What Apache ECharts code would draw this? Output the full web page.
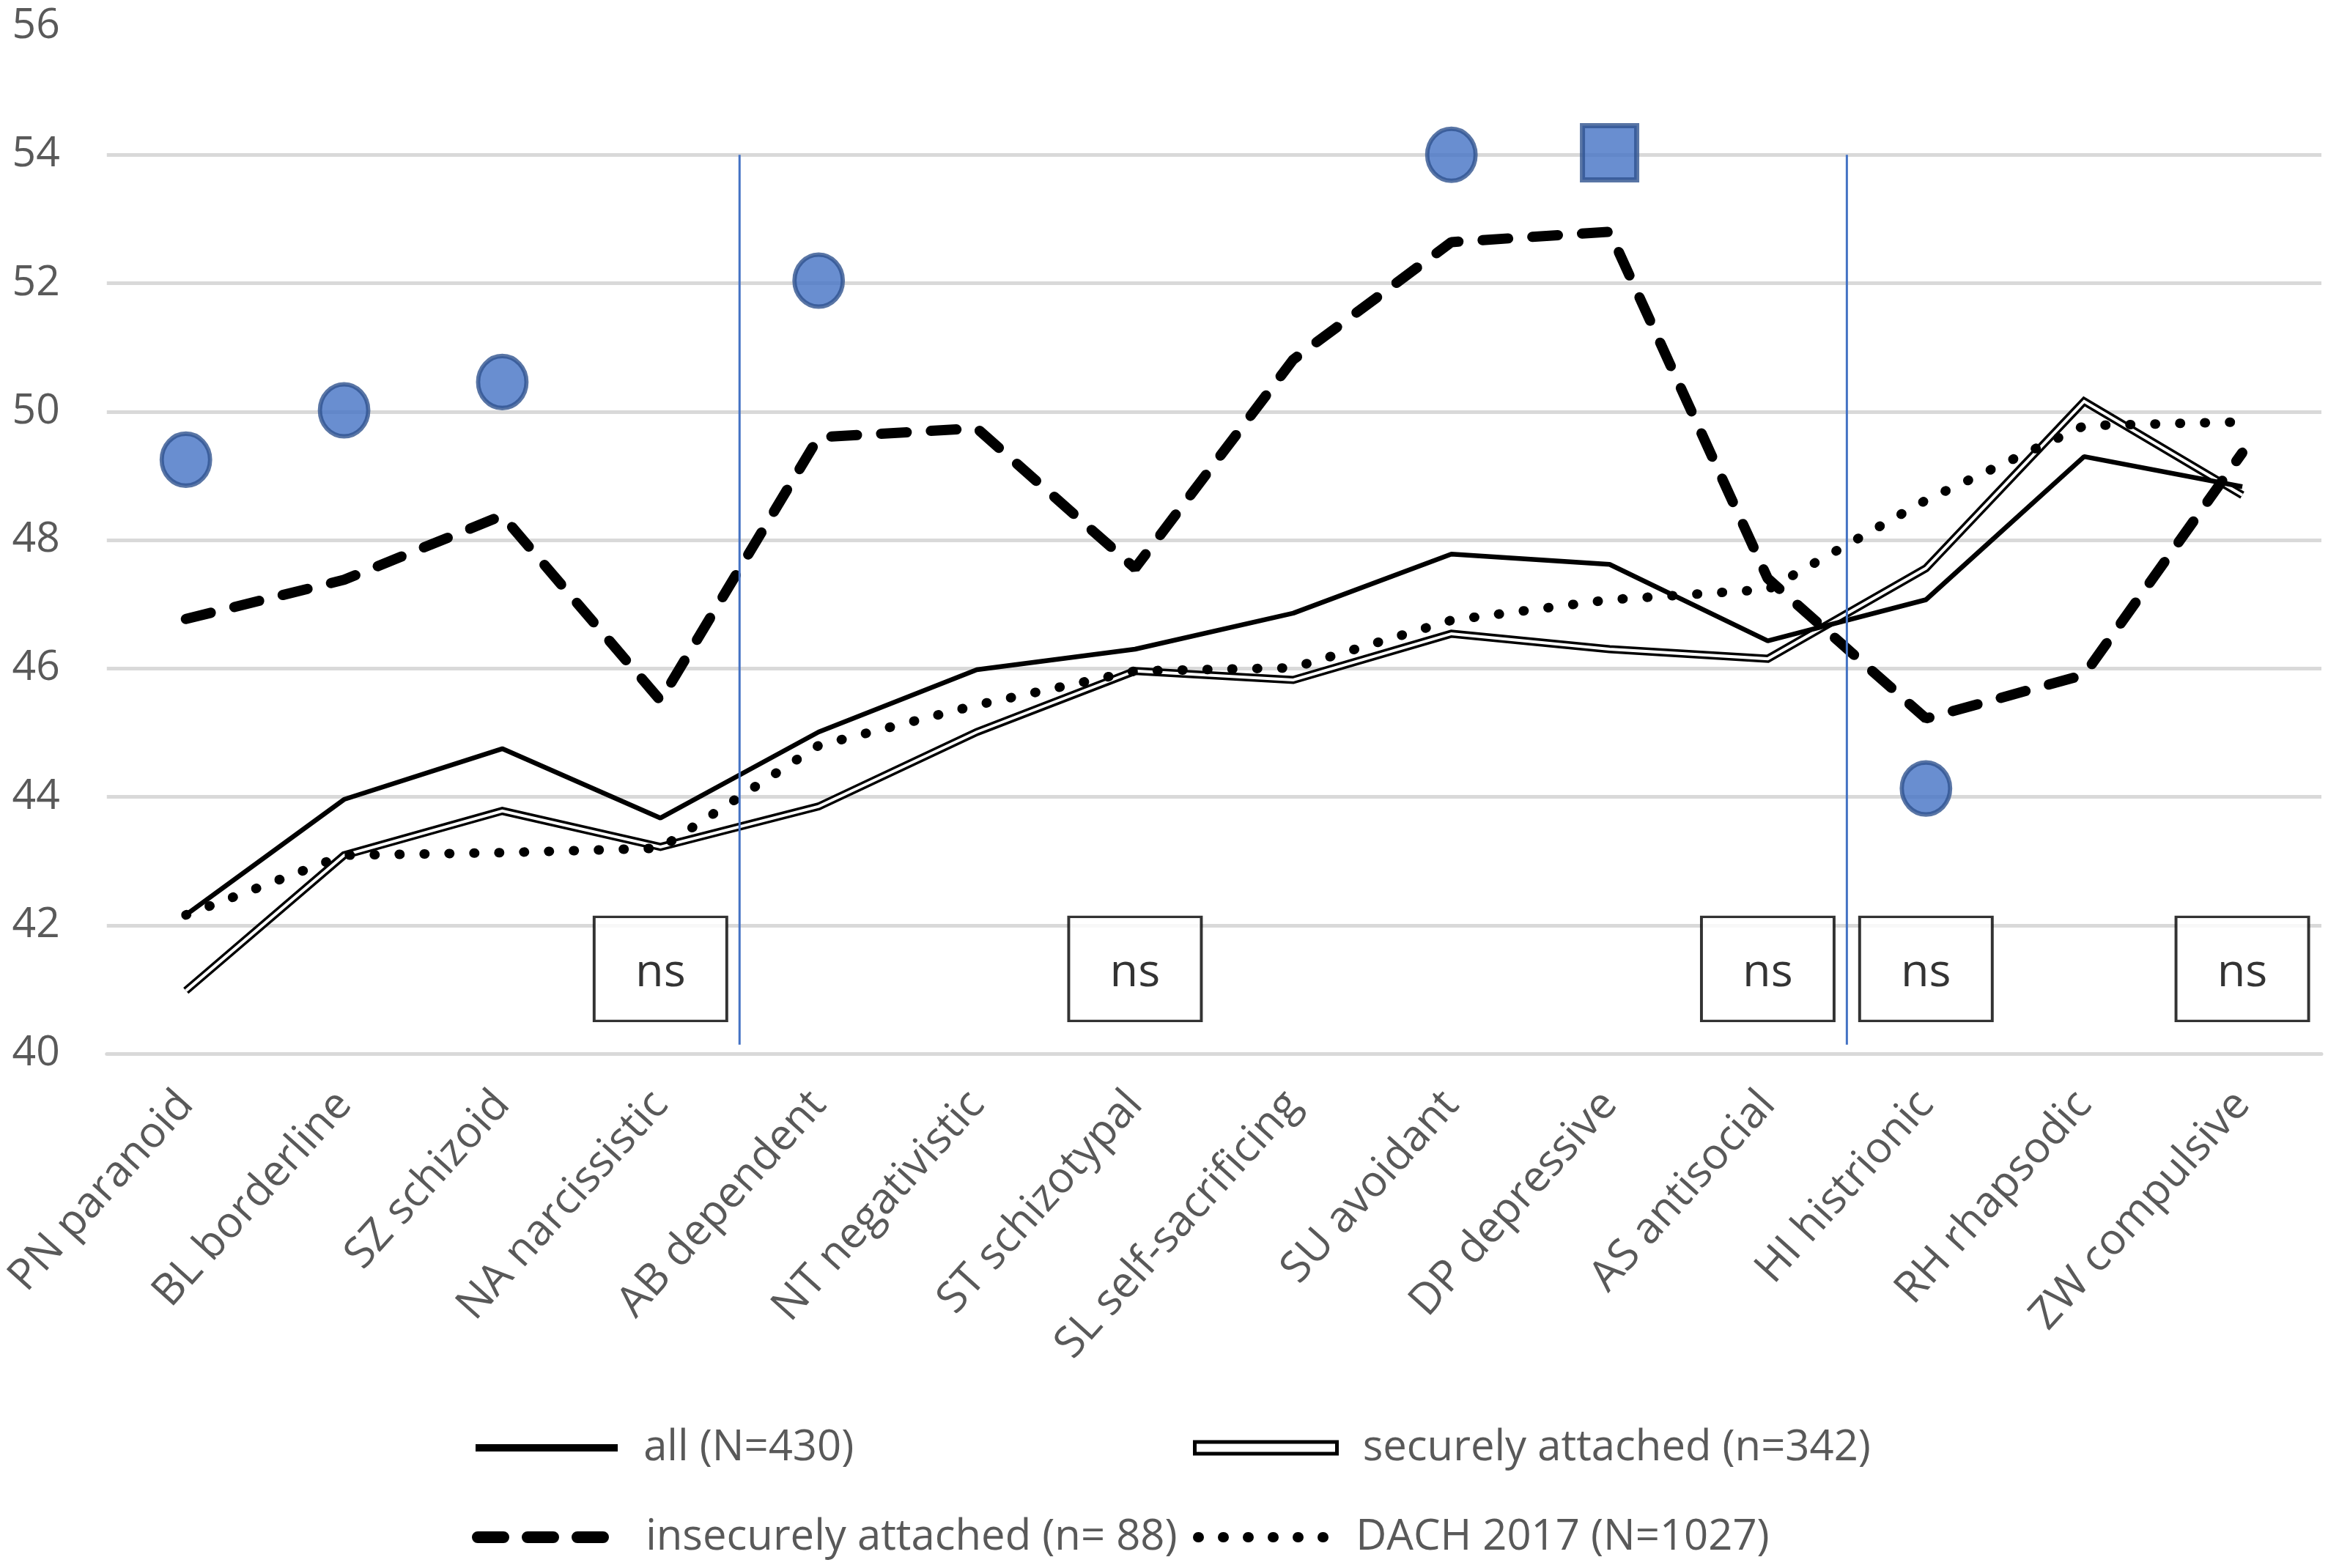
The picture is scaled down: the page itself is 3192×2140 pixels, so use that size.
<!DOCTYPE html>
<html>
<head>
<meta charset="utf-8">
<script src="https://cdn.jsdelivr.net/npm/echarts@6/dist/echarts.min.js"></script>
<style>
  html, body { margin: 0; padding: 0; background: #fff; }
  #chart { width: 3192px; height: 2140px; }
</style>
</head>
<body>
<div id="chart"></div>
<script>
// categories (personality styles)
const categories = ['PN paranoid', 'BL borderline', 'SZ schizoid', 'NA narcissistic', 'AB dependent',
  'NT negativistic', 'ST schizotypal', 'SL self-sacrificing', 'SU avoidant', 'DP depressive',
  'AS antisocial', 'HI histrionic', 'RH rhapsodic', 'ZW compulsive'];

// mean scores per group
const allScores = [42.16, 43.96, 44.75, 43.67, 45.01, 45.98, 46.30, 46.86, 47.78, 47.62, 46.43, 47.07, 49.30, 48.83];
const secureScores = [40.98, 43.09, 43.78, 43.22, 43.85, 45.01, 45.96, 45.82, 46.54, 46.30, 46.15, 47.56, 50.16, 48.70];
const insecureScores = [46.77, 47.38, 48.38, 45.50, 49.60, 49.74, 47.56, 50.81, 52.64, 52.80, 47.40, 45.22, 45.90, 49.36];
const dachScores = [42.16, 43.09, 43.13, 43.20, 44.80, 45.43, 45.96, 46.01, 46.75, 47.07, 47.23, 48.62, 49.78, 49.84];

// significance markers
const circleMarks = [49.25, 50.02, 50.46, '-', 52.04, '-', '-', '-', 54.0, '-', '-', 44.13, '-', '-'];
const squareMarks = ['-', '-', '-', '-', '-', '-', '-', '-', '-', 54.03, '-', '-', '-', '-'];
const nsCats = ['NA narcissistic', 'ST schizotypal', 'AS antisocial', 'HI histrionic', 'ZW compulsive'];
const NS_LEVEL = 41.32;

// group dividers (position on a 0..14 scale of category slots)
const dividers = [4, 11];
const DIV_TOP = 54, DIV_BOTTOM = 40.14;

const names = ['all (N=430)', 'securely attached (n=342)', 'insecurely attached (n= 88)', 'DACH 2017 (N=1027)'];

const FONT = 'Open Sans';
const GREY = '#595959';
const BLUE = '#4472C4';
const BLUE_DARK = '#2F528F';

const chart = echarts.init(document.getElementById('chart'));

const legendBase = {
  orient: 'horizontal',
  padding: 0,
  itemWidth: 194,
  itemHeight: 16,
  formatter: n => '  ' + n,
  itemStyle: { opacity: 0 },
  textStyle: { color: GREY, fontSize: 58, fontFamily: FONT },
  selectedMode: false
};

const series = [
  {
    name: names[1], type: 'line', data: secureScores, symbol: 'none',
    itemStyle: { color: '#000' },
    lineStyle: { color: '#000', width: 11, join: 'miter' }, z: 2
  },
  {
    name: 'secure inner', type: 'line', data: secureScores, symbol: 'none',
    lineStyle: { color: '#fff', width: 4, join: 'miter' }, z: 2
  },
  {
    name: names[0], type: 'line', data: allScores, symbol: 'none',
    itemStyle: { color: '#000' },
    lineStyle: { color: '#000', width: 6.5 }, z: 3
  },
  {
    name: names[3], type: 'line', data: dachScores, symbol: 'none',
    itemStyle: { color: '#000' },
    lineStyle: { color: '#000', width: 13, type: [1, 33], cap: 'round' }, z: 3
  },
  {
    name: names[2], type: 'line', data: insecureScores, symbol: 'none',
    itemStyle: { color: '#000' },
    lineStyle: { color: '#000', width: 14, type: [35, 33], cap: 'round' }, z: 4
  },
  {
    name: 'sig circle', type: 'scatter', data: circleMarks, symbol: 'circle', symbolSize: [66, 71],
    itemStyle: { color: BLUE, borderColor: BLUE_DARK, borderWidth: 6 }, z: 5
  },
  {
    name: 'sig square', type: 'scatter', data: squareMarks, symbol: 'rect', symbolSize: [74, 74],
    itemStyle: { color: BLUE, borderColor: BLUE_DARK, borderWidth: 7 }, z: 5
  },
  {
    name: 'ns', type: 'scatter', data: nsCats.map(c => [c, NS_LEVEL]), symbol: 'rect', symbolSize: [181, 142],
    itemStyle: { color: '#fff', borderColor: '#000', borderWidth: 3.5 }, z: 6,
    label: {
      show: true, position: 'inside', formatter: 'ns', color: '#000',
      fontSize: 63, fontFamily: FONT, offset: [0, 6]
    }
  }
];

dividers.forEach((d, i) => {
  series.push({
    name: 'divider' + i, type: 'line', xAxisIndex: 1, yAxisIndex: 0, symbol: 'none',
    data: [[d, DIV_TOP], [d, DIV_BOTTOM]],
    lineStyle: { color: BLUE, width: 3 }, z: 7
  });
});

chart.setOption({
  animation: false,
  backgroundColor: '#fff',
  grid: { left: 140, right: 24, top: 36, bottom: 702, containLabel: false },
  legend: [
    Object.assign({}, legendBase, { left: 644, top: 1947, data: [{ name: names[0], lineStyle: { width: 10 } }] }),
    Object.assign({}, legendBase, {
      left: 1628, top: 1947,
      data: [{ name: names[1], icon: 'rect', itemStyle: { opacity: 1, color: '#fff', borderColor: '#000', borderWidth: 5 } }]
    }),
    Object.assign({}, legendBase, { left: 644, top: 2069, data: [{ name: names[2], lineStyle: { width: 16 } }] }),
    Object.assign({}, legendBase, { left: 1628, top: 2069, itemWidth: 180, data: [{ name: names[3], lineStyle: { width: 14 } }] })
  ],
  xAxis: [
    {
      type: 'category',
      data: categories,
      boundaryGap: true,
      axisLine: { show: true, lineStyle: { color: '#D9D9D9', width: 5 } },
      axisTick: { show: false },
      axisLabel: { rotate: 48, interval: 0, margin: 60, color: GREY, fontSize: 59, fontFamily: FONT }
    },
    { type: 'value', min: 0, max: 14, show: false }
  ],
  yAxis: {
    type: 'value',
    min: 40,
    max: 56,
    interval: 2,
    axisLine: { show: false },
    axisTick: { show: false },
    axisLabel: { margin: 64, color: GREY, fontSize: 57, fontFamily: FONT },
    splitLine: { showMaxLine: false, lineStyle: { color: '#D9D9D9', width: 5 } }
  },
  series: series
});
</script>
</body>
</html>
